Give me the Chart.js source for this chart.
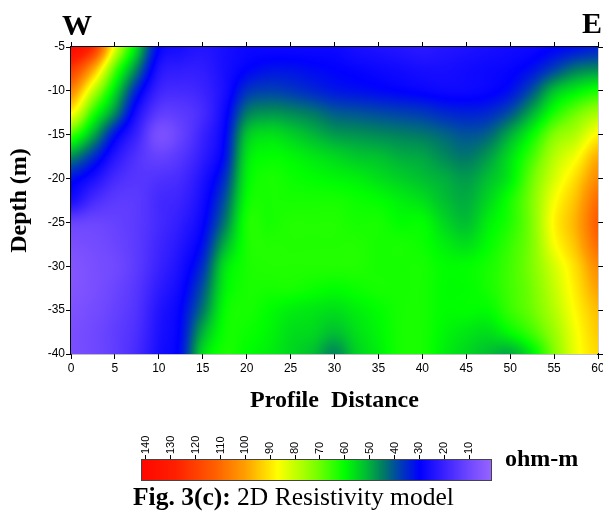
<!DOCTYPE html>
<html>
<head>
<meta charset="utf-8">
<script src="https://cdn.jsdelivr.net/npm/chart.js@4.4.1/dist/chart.umd.min.js"></script>
<style>
  body { margin: 0; background: #fff; }
  #page { position: relative; width: 603px; height: 513px; overflow: hidden; }
  .lbl { position: absolute; font-family: "Liberation Serif", "Times New Roman", serif; line-height: 1; white-space: nowrap; color: #000; }
</style>
</head>
<body>
<div id="page">
  <div style="position:absolute;left:0;top:0;width:603px;height:420px"><canvas id="main"></canvas></div>
  <div style="position:absolute;left:0;top:415px;width:603px;height:70px"><canvas id="bar"></canvas></div>
  <div class="lbl" style="left:62px;top:10px;font-size:30px;font-weight:bold">W</div>
  <div class="lbl" style="right:1px;top:8px;font-size:30px;font-weight:bold">E</div>
  <div class="lbl" style="left:505px;top:446px;font-size:24px;font-weight:bold">ohm-m</div>
  <div class="lbl" style="left:133px;top:484px;font-size:25.5px"><b>Fig. 3(c):</b> 2D Resistivity model</div>
</div>
<script>
// grid positions (m)
const distances = [0, 2.5, 5, 7.5, 10, 12.5, 15, 17.5, 20, 22.5, 25, 27.5, 30, 32.5, 35, 37.5, 40, 42.5, 45, 47.5, 50, 52.5, 55, 57.5, 60];
const depths = [5, 7.5, 10, 12.5, 15, 17.5, 20, 22.5, 25, 27.5, 30, 32.5, 35, 37.5, 40];

// resistivity (ohm-m), one row per depth
const resistivity = [
  [140,125,84,55,30,26,24,26,28,28,28,28,28,26,25,24,23,24,25,26,27,28,30,32,34],
  [122,100,68,45,25,22,22,26,30,32,32,31,30,29,28,27,26,26,27,28,29,32,38,44,46],
  [105,80,56,34,20,18,20,26,36,38,37,35,33,32,31,30,29,28,28,29,32,40,52,58,62],
  [88,64,46,26,14,14,18,28,44,47,46,44,41,40,39,38,37,35,34,35,40,50,62,70,76],
  [66,50,32,20,8,12,20,30,52,56,54,51,48,47,46,45,44,42,40,42,50,60,72,78,88],
  [46,36,24,16,12,15,22,32,56,60,59,57,55,53,52,50,49,46,44,48,56,66,78,86,98],
  [32,26,18,15,16,18,25,36,58,62,61,60,59,58,56,54,52,50,48,52,58,70,82,92,104],
  [26,18,14,14,18,20,27,40,60,62,62,62,62,61,60,58,56,52,50,55,62,72,86,96,110],
  [12,11,12,14,18,22,29,44,62,62,63,63,63,62,62,60,60,55,52,58,63,72,88,98,113],
  [8,9,11,14,19,24,32,50,62,63,63,63,63,63,62,62,61,58,56,60,65,72,86,96,110],
  [6,8,10,14,20,26,36,56,62,63,63,63,63,63,62,62,62,60,60,62,66,72,82,92,104],
  [6,8,11,15,22,28,40,58,62,62,62,61,60,61,62,62,62,60,60,62,66,71,80,90,100],
  [7,9,12,16,24,30,44,60,62,60,58,57,56,58,60,62,62,60,60,60,65,70,78,88,96],
  [8,10,13,17,25,31,50,61,61,59,56,55,52,56,59,62,62,59,57,56,60,66,75,86,94],
  [8,10,13,18,26,32,55,62,60,58,55,52,46,54,58,62,62,58,55,52,50,58,72,85,92]
];

const distanceTicks = [0, 5, 10, 15, 20, 25, 30, 35, 40, 45, 50, 55, 60];
const depthTicks = [-5, -10, -15, -20, -25, -30, -35, -40];
const scaleTicks = [140, 130, 120, 110, 100, 90, 80, 70, 60, 50, 40, 30, 20, 10];

// colour scale: value -> colour
const colorStops = [
  [0, '#9c68ff'], [10, '#7048ff'], [20, '#3a22ff'], [30, '#0000ff'],
  [38, '#0040b0'], [45, '#008060'], [52, '#00c030'], [60, '#00ff00'],
  [72, '#80ff00'], [87, '#ffff00'], [100, '#ffa000'], [112, '#ff6000'],
  [128, '#ff2000'], [145, '#ff0000']
];
const stopRgb = colorStops.map(([v, c]) => [v, parseInt(c.slice(1, 3), 16), parseInt(c.slice(3, 5), 16), parseInt(c.slice(5, 7), 16)]);

function colorFor(v) {
  if (v <= stopRgb[0][0]) return stopRgb[0].slice(1);
  for (let i = 1; i < stopRgb.length; i++) {
    const b = stopRgb[i];
    if (v <= b[0]) {
      const a = stopRgb[i - 1];
      const t = (v - a[0]) / (b[0] - a[0]);
      return [a[1] + (b[1] - a[1]) * t, a[2] + (b[2] - a[2]) * t, a[3] + (b[3] - a[3]) * t];
    }
  }
  return stopRgb[stopRgb.length - 1].slice(1);
}

// smooth (catmull-rom) lookup in the grid, only for painting pixels
function cr(p0, p1, p2, p3, t) {
  return 0.5 * (2 * p1 + (-p0 + p2) * t + (2 * p0 - 5 * p1 + 4 * p2 - p3) * t * t + (-p0 + 3 * p1 - 3 * p2 + p3) * t * t * t);
}
function locate(arr, v) {
  let i = 0;
  while (i < arr.length - 2 && v > arr[i + 1]) i++;
  let t = (v - arr[i]) / (arr[i + 1] - arr[i]);
  return [i, Math.max(0, Math.min(1, t))];
}
function cell(r, c) {
  r = Math.max(0, Math.min(depths.length - 1, r));
  c = Math.max(0, Math.min(distances.length - 1, c));
  return resistivity[r][c];
}
function sample(dist, depth) {
  const [ci, tx] = locate(distances, dist);
  const [ri, ty] = locate(depths, depth);
  const rows = [];
  for (let k = -1; k <= 2; k++) {
    const r = ri + k;
    rows.push(cr(cell(r, ci - 1), cell(r, ci), cell(r, ci + 1), cell(r, ci + 2), tx));
  }
  return cr(rows[0], rows[1], rows[2], rows[3], ty);
}

const heatmap = {
  id: 'heatmap',
  beforeDatasetsDraw(chart) {
    const { ctx, chartArea: a, scales: { x, y } } = chart;
    const w = Math.round(a.right - a.left), h = Math.round(a.bottom - a.top);
    const off = document.createElement('canvas');
    off.width = w; off.height = h;
    const octx = off.getContext('2d');
    const img = octx.createImageData(w, h);
    for (let j = 0; j < h; j++) {
      const depth = -y.getValueForPixel(a.top + j + 0.5);
      for (let i = 0; i < w; i++) {
        const dist = x.getValueForPixel(a.left + i + 0.5);
        const c = colorFor(sample(dist, depth));
        const p = (j * w + i) * 4;
        img.data[p] = c[0]; img.data[p + 1] = c[1]; img.data[p + 2] = c[2]; img.data[p + 3] = 255;
      }
    }
    octx.putImageData(img, 0, 0);
    ctx.drawImage(off, a.left, a.top, w, h);
  }
};

const points = [];
depths.forEach((d, r) => distances.forEach((x, c) => points.push({ x: x, y: -d, v: resistivity[r][c] })));

const tickFont = { family: '"Liberation Sans", Arial, sans-serif', size: 12 };
const titleFont = { family: '"Liberation Serif", "Times New Roman", serif', size: 24, weight: 'bold' };
const noPad = s => { s.paddingLeft = 0; s.paddingRight = 0; s.paddingTop = 0; s.paddingBottom = 0; };
const setTicks = arr => s => { s.ticks = arr.map(v => ({ value: v })); };
const tickGrid = { drawOnChartArea: false, tickLength: 5, color: '#000' };
const axisBorder = { color: '#000', width: 1.2 };

new Chart(document.getElementById('main'), {
  type: 'scatter',
  data: { datasets: [{ data: points, pointRadius: 0, pointHoverRadius: 0 }] },
  options: {
    responsive: true,
    maintainAspectRatio: false,
    animation: false,
    events: [],
    layout: { padding: 0 },
    plugins: { legend: { display: false }, tooltip: { enabled: false } },
    scales: {
      x: {
        type: 'linear', position: 'bottom', min: 0, max: 60,
        afterBuildTicks: setTicks(distanceTicks),
        ticks: { font: tickFont, color: '#000', padding: 2, maxRotation: 0 },
        grid: tickGrid, border: axisBorder,
        title: { display: true, text: 'Profile  Distance', font: titleFont, color: '#000', padding: { top: 4, bottom: 5 } },
        afterFit: s => { s.height = 66; noPad(s); }
      },
      x2: {
        type: 'linear', position: 'top', min: 0, max: 60,
        afterBuildTicks: setTicks(distanceTicks),
        ticks: { display: false },
        grid: tickGrid, border: axisBorder,
        afterFit: s => { s.height = 47; noPad(s); }
      },
      y: {
        type: 'linear', position: 'left', min: -40, max: -5,
        afterBuildTicks: setTicks(depthTicks),
        ticks: { font: tickFont, color: '#000', padding: 1 },
        grid: tickGrid, border: axisBorder,
        title: { display: true, text: 'Depth (m)', font: titleFont, color: '#000', padding: { top: 5, bottom: 0 } },
        afterFit: s => { s.width = 71; noPad(s); }
      },
      y2: {
        type: 'linear', position: 'right', min: -40, max: -5,
        afterBuildTicks: setTicks(depthTicks),
        ticks: { display: false },
        grid: tickGrid, border: axisBorder,
        afterFit: s => { s.width = 5; noPad(s); }
      }
    }
  },
  plugins: [heatmap]
});

const colorbar = {
  id: 'colorbar',
  beforeDatasetsDraw(chart) {
    const { ctx, chartArea: a, scales: { x } } = chart;
    for (let px = Math.floor(a.left); px < a.right; px++) {
      const c = colorFor(x.getValueForPixel(px + 0.5));
      ctx.fillStyle = `rgb(${c[0] | 0},${c[1] | 0},${c[2] | 0})`;
      ctx.fillRect(px, a.top, 1, a.bottom - a.top);
    }
    ctx.strokeStyle = '#444';
    ctx.lineWidth = 1;
    ctx.strokeRect(a.left + 0.5, a.top + 0.5, a.right - a.left - 1, a.bottom - a.top - 1);
  },
  afterDraw(chart) {
    // upright-reading tick labels centred on their ticks
    const { ctx, chartArea: a, scales: { x } } = chart;
    ctx.save();
    ctx.fillStyle = '#000';
    ctx.font = '11px "Liberation Sans", Arial, sans-serif';
    ctx.textAlign = 'left';
    ctx.textBaseline = 'middle';
    scaleTicks.forEach(v => {
      ctx.save();
      ctx.translate(x.getPixelForValue(v), a.top - 5);
      ctx.rotate(-Math.PI / 2);
      ctx.fillText(String(v), 0, 0);
      ctx.restore();
    });
    ctx.restore();
  }
};

new Chart(document.getElementById('bar'), {
  type: 'scatter',
  data: { datasets: [{ data: [], pointRadius: 0 }] },
  options: {
    responsive: true,
    maintainAspectRatio: false,
    animation: false,
    events: [],
    layout: { padding: { left: 141, right: 111, top: 0, bottom: 4 } },
    plugins: { legend: { display: false }, tooltip: { enabled: false } },
    scales: {
      x: {
        type: 'linear', position: 'top', reverse: true, min: 0.8, max: 142,
        afterBuildTicks: setTicks(scaleTicks),
        ticks: { display: false },
        grid: { drawOnChartArea: false, tickLength: 4, color: '#000' },
        border: { display: false },
        afterFit: s => { s.height = 44; noPad(s); }
      },
      y: { display: false, min: 0, max: 1 }
    }
  },
  plugins: [colorbar]
});
</script>
</body>
</html>
